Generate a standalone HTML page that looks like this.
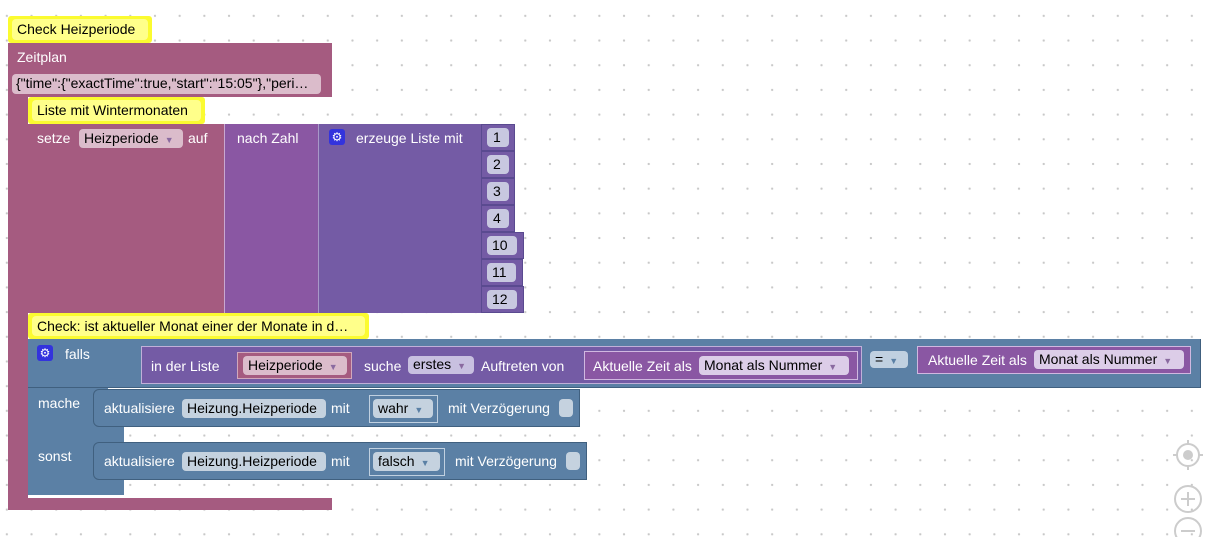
<!DOCTYPE html>
<html><head><meta charset="utf-8"><style>
body{margin:0;width:1206px;height:537px;overflow:hidden;background:#fff;font-family:"Liberation Sans",sans-serif;font-size:14px;position:relative}
.bg{position:absolute;left:0;top:0;width:1206px;height:537px;
background-image:radial-gradient(circle,#c8c8c8 1px,transparent 1.3px);background-size:24.7px 24.7px;background-position:-5.5px 3.5px}
.a{position:absolute;box-sizing:border-box}
.t{position:absolute;color:#fff;white-space:nowrap;line-height:16px}
.f{position:absolute;box-sizing:border-box;border-radius:4px;color:#000;white-space:nowrap;line-height:18px;padding-left:5px}
.c{background:#fbfb30;border-radius:3px;}
.c span{position:absolute;left:4px;top:3px;right:4px;bottom:3px;background:#ffff8a;border-radius:4px;padding-left:5px;line-height:20px;color:#000;white-space:nowrap}
.p{background:#a55b80}.v{background:#745ba5}.n{background:#8a57a3}.b{background:#5b80a5}
.gear{position:absolute;width:16px;height:16px;background:#3333dd;border-radius:3px;color:#fff;font-size:12px;line-height:16px;text-align:center}
.tri{font-size:9px;color:#8a6aa0;margin-left:6px}
</style></head><body>
<div class="bg"></div>

<!-- Zeitplan -->
<div class="a c" style="left:8px;top:16px;width:144px;height:27px"><span>Check Heizperiode</span></div>
<div class="a p" style="left:8px;top:43px;width:324px;height:54px"></div>
<div class="t" style="left:17px;top:49px">Zeitplan</div>
<div class="f" style="left:12px;top:74px;width:309px;height:20px;background:#dbbccb;padding-left:4px">{"time":{"exactTime":true,"start":"15:05"},"peri…</div>
<div class="a p" style="left:8px;top:97px;width:20px;height:410px;border-radius:0 0 0 8px"></div>
<div class="a p" style="left:8px;top:498px;width:324px;height:12px"></div>

<!-- setze -->
<div class="a c" style="left:28px;top:97px;width:177px;height:27px"><span>Liste mit Wintermonaten</span></div>
<div class="a p" style="left:28px;top:124px;width:200px;height:189px"></div>
<div class="t" style="left:37px;top:130px">setze</div>
<div class="f" style="left:79px;top:129px;width:104px;height:19px;background:#dbbccb">Heizperiode<span class="tri">▼</span></div>
<div class="t" style="left:188px;top:130px">auf</div>
<div class="a n" style="left:224px;top:124px;width:95px;height:189px;border-left:1px solid #c9a8d0"></div>
<div class="t" style="left:237px;top:130px">nach Zahl</div>
<div class="a v" style="left:318px;top:124px;width:165px;height:189px;border-left:1px solid #a898c8"></div>
<div class="gear" style="left:329px;top:129px">⚙</div>
<div class="t" style="left:356px;top:130px">erzeuge Liste mit</div>
<div class="a v" style="left:481px;top:124px;width:34px;height:27px;border:1px solid #5a4a90"></div><div class="f" style="left:487px;top:128px;width:22px;height:19px;background:#c8c8e0;padding-left:6px">1</div>
<div class="a v" style="left:481px;top:151px;width:34px;height:27px;border:1px solid #5a4a90"></div><div class="f" style="left:487px;top:155px;width:22px;height:19px;background:#c8c8e0;padding-left:6px">2</div>
<div class="a v" style="left:481px;top:178px;width:34px;height:27px;border:1px solid #5a4a90"></div><div class="f" style="left:487px;top:182px;width:22px;height:19px;background:#c8c8e0;padding-left:6px">3</div>
<div class="a v" style="left:481px;top:205px;width:34px;height:27px;border:1px solid #5a4a90"></div><div class="f" style="left:487px;top:209px;width:22px;height:19px;background:#c8c8e0;padding-left:6px">4</div>
<div class="a v" style="left:481px;top:232px;width:43px;height:27px;border:1px solid #5a4a90"></div><div class="f" style="left:487px;top:236px;width:30px;height:19px;background:#c8c8e0;padding-left:5px">10</div>
<div class="a v" style="left:481px;top:259px;width:42px;height:27px;border:1px solid #5a4a90"></div><div class="f" style="left:487px;top:263px;width:29px;height:19px;background:#c8c8e0;padding-left:5px">11</div>
<div class="a v" style="left:481px;top:286px;width:43px;height:27px;border:1px solid #5a4a90"></div><div class="f" style="left:487px;top:290px;width:30px;height:19px;background:#c8c8e0;padding-left:5px">12</div>

<!-- if block -->
<div class="a c" style="left:28px;top:313px;width:341px;height:26px"><span>Check: ist aktueller Monat einer der Monate in d…</span></div>
<div class="a b" style="left:28px;top:339px;width:1173px;height:49px;border-bottom:1px solid #40607f;border-right:1px solid #40607f"></div>
<div class="a b" style="left:28px;top:388px;width:80px;height:107px;border-radius:0 0 0 6px"></div>
<div class="a b" style="left:28px;top:427px;width:96px;height:15px"></div>
<div class="a b" style="left:28px;top:480px;width:96px;height:15px"></div>
<div class="gear" style="left:37px;top:345px">⚙</div>
<div class="t" style="left:65px;top:346px">falls</div>
<div class="t" style="left:38px;top:395px">mache</div>
<div class="t" style="left:38px;top:448px">sonst</div>

<div class="a v" style="left:141px;top:346px;width:721px;height:38px;border:1px solid #c0b0d8"></div>
<div class="t" style="left:151px;top:358px">in der Liste</div>
<div class="a p" style="left:237px;top:352px;width:115px;height:27px;border:1px solid #d0a8bc"></div>
<div class="f" style="left:243px;top:356px;width:104px;height:19px;background:#dbbccb">Heizperiode<span class="tri">▼</span></div>
<div class="t" style="left:364px;top:358px">suche</div>
<div class="f" style="left:408px;top:356px;width:66px;height:18px;background:#c8c0e0;line-height:17px">erstes<span class="tri">▼</span></div>
<div class="t" style="left:481px;top:358px">Auftreten von</div>
<div class="a n" style="left:584px;top:351px;width:274px;height:29px;border:1px solid #d0b8e0"></div>
<div class="t" style="left:593px;top:358px">Aktuelle Zeit als</div>
<div class="f" style="left:699px;top:356px;width:150px;height:19px;background:#dccde8">Monat als Nummer<span class="tri">▼</span></div>
<div class="f" style="left:870px;top:351px;width:38px;height:17px;background:#c0d0e0;line-height:16px">=<span class="tri" style="color:#5b80a5">▼</span></div>
<div class="a n" style="left:917px;top:346px;width:274px;height:28px;border:1px solid #d0b8e0"></div>
<div class="t" style="left:928px;top:352px">Aktuelle Zeit als</div>
<div class="f" style="left:1034px;top:350px;width:150px;height:19px;background:#dccde8">Monat als Nummer<span class="tri">▼</span></div>

<!-- mache -->
<div class="a b" style="left:93px;top:389px;width:487px;height:38px;border:1px solid #40607f;border-radius:6px 0 0 6px"></div>
<div class="t" style="left:104px;top:400px">aktualisiere</div>
<div class="f" style="left:182px;top:399px;width:144px;height:19px;background:#c5d2df">Heizung.Heizperiode</div>
<div class="t" style="left:331px;top:400px">mit</div>
<div class="a b" style="left:369px;top:395px;width:69px;height:28px;border:1px solid #c0d0e0"></div>
<div class="f" style="left:373px;top:399px;width:60px;height:19px;background:#c5d2df">wahr<span class="tri" style="color:#5b80a5">▼</span></div>
<div class="t" style="left:448px;top:400px">mit Verzögerung</div>
<div class="f" style="left:559px;top:399px;width:14px;height:18px;background:#c5d2df"></div>

<!-- sonst -->
<div class="a b" style="left:93px;top:442px;width:494px;height:38px;border:1px solid #40607f;border-radius:6px 0 0 6px"></div>
<div class="t" style="left:104px;top:453px">aktualisiere</div>
<div class="f" style="left:182px;top:452px;width:144px;height:19px;background:#c5d2df">Heizung.Heizperiode</div>
<div class="t" style="left:331px;top:453px">mit</div>
<div class="a b" style="left:369px;top:448px;width:76px;height:28px;border:1px solid #c0d0e0"></div>
<div class="f" style="left:373px;top:452px;width:67px;height:19px;background:#c5d2df">falsch<span class="tri" style="color:#5b80a5">▼</span></div>
<div class="t" style="left:455px;top:453px">mit Verzögerung</div>
<div class="f" style="left:566px;top:452px;width:14px;height:18px;background:#c5d2df"></div>

<!-- controls -->
<svg class="a" style="left:1170px;top:438px" width="36" height="99">
<g stroke="#ccc" stroke-width="2" fill="none">
<circle cx="18" cy="17" r="11"/><line x1="18" y1="2" x2="18" y2="6"/><line x1="18" y1="28" x2="18" y2="32"/><line x1="3" y1="17" x2="7" y2="17"/><line x1="29" y1="17" x2="33" y2="17"/>
<circle cx="18" cy="61" r="13"/><line x1="11" y1="61" x2="25" y2="61"/><line x1="18" y1="54" x2="18" y2="68"/>
<circle cx="18" cy="93" r="13"/><line x1="11" y1="93" x2="25" y2="93"/></g>
<circle cx="18" cy="17" r="5" fill="#ccc"/></svg>
</body></html>
